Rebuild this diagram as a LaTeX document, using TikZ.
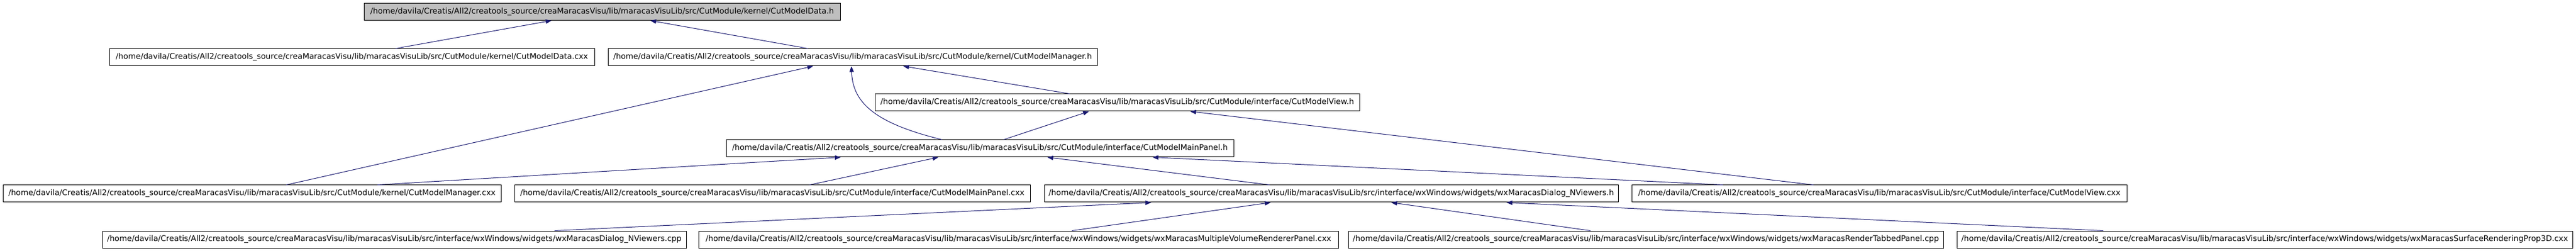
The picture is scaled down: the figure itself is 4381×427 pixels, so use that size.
\documentclass[tikz,border=0pt]{standalone}
\usepackage{fontspec}
\setmainfont{DejaVu Sans}
\usetikzlibrary{arrows.meta,calc}
\definecolor{edgeblue}{HTML}{191970}
\definecolor{rootgray}{HTML}{BFBFBF}
\begin{document}
\begin{tikzpicture}[x=0.75pt,y=-0.75pt,
  file/.style={draw=black, line width=0.75pt, fill=white, inner sep=0pt,
    minimum height=21.75pt, font=\fontsize{10}{12}\selectfont, anchor=center},
  rootfile/.style={file, fill=rootgray},
  dep/.style={draw=edgeblue, line width=0.75pt, -{Triangle[length=7.5pt,width=5.5pt]}, edgeblue}]
\fill[white] (0,0) rectangle (4381,427);
\useasboundingbox (0,0) rectangle (4381,427);
% row 1
\node[rootfile, minimum width=607.5pt] (root) at (1024,20) {/home/davila/Creatis/All2/creatools\_source/creaMaracasVisu/lib/maracasVisuLib/src/CutModule/kernel/CutModelData.h};
% row 2
\node[file, minimum width=618.75pt] (datacxx) at (598.5,97.5) {/home/davila/Creatis/All2/creatools\_source/creaMaracasVisu/lib/maracasVisuLib/src/CutModule/kernel/CutModelData.cxx};
\node[file, minimum width=624pt] (mgrh) at (1450,97.5) {/home/davila/Creatis/All2/creatools\_source/creaMaracasVisu/lib/maracasVisuLib/src/CutModule/kernel/CutModelManager.h};
% row 3
\node[file, minimum width=618pt] (viewh) at (1900,174.5) {/home/davila/Creatis/All2/creatools\_source/creaMaracasVisu/lib/maracasVisuLib/src/CutModule/interface/CutModelView.h};
% row 3b
\node[file, minimum width=647.25pt] (mainh) at (1666.5,252.5) {/home/davila/Creatis/All2/creatools\_source/creaMaracasVisu/lib/maracasVisuLib/src/CutModule/interface/CutModelMainPanel.h};
% row 4
\node[file, minimum width=635.25pt] (mgrcxx) at (428.5,329.5) {/home/davila/Creatis/All2/creatools\_source/creaMaracasVisu/lib/maracasVisuLib/src/CutModule/kernel/CutModelManager.cxx};
\node[file, minimum width=657.75pt] (maincxx) at (1313.5,329.5) {/home/davila/Creatis/All2/creatools\_source/creaMaracasVisu/lib/maracasVisuLib/src/CutModule/interface/CutModelMainPanel.cxx};
\node[file, minimum width=732pt] (nvh) at (2264,329.5) {/home/davila/Creatis/All2/creatools\_source/creaMaracasVisu/lib/maracasVisuLib/src/interface/wxWindows/widgets/wxMaracasDialog\_NViewers.h};
\node[file, minimum width=631.5pt] (viewcxx) at (3196,329.5) {/home/davila/Creatis/All2/creatools\_source/creaMaracasVisu/lib/maracasVisuLib/src/CutModule/interface/CutModelView.cxx};
% row 5
\node[file, minimum width=744.75pt] (nvcpp) at (670.5,407.5) {/home/davila/Creatis/All2/creatools\_source/creaMaracasVisu/lib/maracasVisuLib/src/interface/wxWindows/widgets/wxMaracasDialog\_NViewers.cpp};
\node[file, minimum width=816pt] (multi) at (1732,407.5) {/home/davila/Creatis/All2/creatools\_source/creaMaracasVisu/lib/maracasVisuLib/src/interface/wxWindows/widgets/wxMaracasMultipleVolumeRendererPanel.cxx};
\node[file, minimum width=759pt] (tabbed) at (2799,407.5) {/home/davila/Creatis/All2/creatools\_source/creaMaracasVisu/lib/maracasVisuLib/src/interface/wxWindows/widgets/wxMaracasRenderTabbedPanel.cpp};
\node[file, minimum width=785.25pt] (surface) at (3851.5,407.5) {/home/davila/Creatis/All2/creatools\_source/creaMaracasVisu/lib/maracasVisuLib/src/interface/wxWindows/widgets/wxMaracasSurfaceRenderingProp3D.cxx};
% edges
\draw[dep] ($(datacxx.north)+(74.5,0)$) -- ($(root.south)+(-86,0)$);
\draw[dep] ($(mgrh.north)+(-76,0)$) -- ($(root.south)+(82,0)$);
\draw[dep] ($(mgrcxx.north)+(58.5,0)$) -- ($(mgrh.south)+(-67,0)$);
\draw[dep] ($(mgrcxx.north)+(213.5,0)$) -- ($(mainh.south)+(-236.5,0)$);
\draw[dep] ($(mainh.north)+(-64.5,0)$) .. controls (1480,208) and (1450,170) .. ($(mgrh.south)+(-2,0)$);
\draw[dep] ($(mainh.north)+(40.5,0)$) -- ($(viewh.south)+(-48,0)$);
\draw[dep] ($(viewh.north)+(-81,0)$) -- ($(mgrh.south)+(86,0)$);
\draw[dep] ($(maincxx.north)+(63.5,0)$) -- ($(mainh.south)+(-70.5,0)$);
\draw[dep] ($(nvh.north)+(-105,0)$) -- ($(mainh.south)+(114.5,0)$);
\draw[dep] ($(viewcxx.north)+(-266,0)$) -- ($(mainh.south)+(293.5,0)$);
\draw[dep] ($(viewcxx.north)+(-112,0)$) -- ($(viewh.south)+(124,0)$);
\draw[dep] ($(nvcpp.north)+(272.5,0)$) -- ($(nvh.south)+(-306,0)$);
\draw[dep] ($(multi.north)+(91,0)$) -- ($(nvh.south)+(-103,0)$);
\draw[dep] ($(tabbed.north)+(-94,0)$) -- ($(nvh.south)+(102,0)$);
\draw[dep] ($(surface.north)+(-274.5,0)$) -- ($(nvh.south)+(298,0)$);
\end{tikzpicture}
\end{document}
